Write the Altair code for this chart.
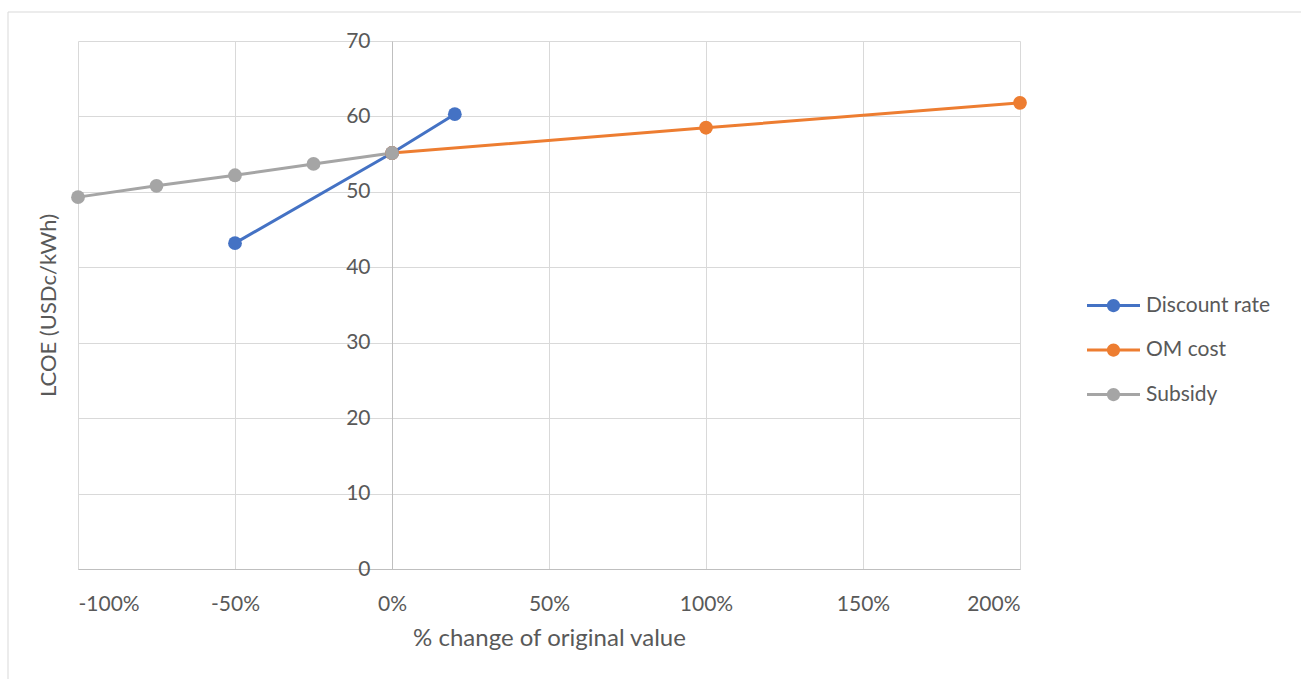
import altair as alt
import pandas as pd

# LCOE sensitivity: % change of each input vs. resulting LCOE (USDc/kWh)
series_names = ["Discount rate", "OM cost", "Subsidy"]
series_colors = ["#4472C4", "#ED7D31", "#A5A5A5"]

discount_pct = [-50, 0, 20]
discount_lcoe = [43.2, 55.15, 60.3]

om_pct = [0, 100, 200]
om_lcoe = [55.15, 58.5, 61.8]

subsidy_pct = [-100, -75, -50, -25, 0]
subsidy_lcoe = [49.3, 50.8, 52.2, 53.7, 55.15]

x_ticks = [-100, -50, 0, 50, 100, 150, 200]
y_ticks = [0, 10, 20, 30, 40, 50, 60, 70]

rows = []
for name, xs, ys in [
    (series_names[0], discount_pct, discount_lcoe),
    (series_names[1], om_pct, om_lcoe),
    (series_names[2], subsidy_pct, subsidy_lcoe),
]:
    for i, (x, y) in enumerate(zip(xs, ys)):
        rows.append({"series": name, "pct": x, "lcoe": y, "order": i})
df = pd.DataFrame(rows)

FONT = "Lato"
TEXT = "#595959"
GRID = "#D9D9D9"

W, H = 942, 528
PAD_L, PAD_T = 78, 41

x_enc = alt.X(
    "pct:Q",
    scale=alt.Scale(domain=[-100, 200], nice=False, zero=False),
    axis=alt.Axis(
        values=x_ticks,
        labelExpr="datum.value + '%'",
        title="% change of original value",
        ticks=False,
        labelPadding=24,
        titlePadding=12,
        titleFontSize=24,
        domainColor="#BFBFBF",
        gridColor=GRID,
    ),
)

y_enc = alt.Y(
    "lcoe:Q",
    scale=alt.Scale(domain=[0, 70], nice=False),
    axis=alt.Axis(
        values=y_ticks,
        title="LCOE (USDc/kWh)",
        ticks=False,
        labelPadding=22,
        offset=-314,
        titleX=-344,
        titleY=H / 2,
        titleBaseline="middle",
        titleAlign="center",
        titleFontSize=22,
        domainColor="#BFBFBF",
        gridColor=GRID,
    ),
)

# line + dot legend glyph: two bar segments and a circle
glyph = (
    "M-1,-0.06H-0.22V0.06H-1Z "
    "M0.22,-0.06H1V0.06H0.22Z "
    "M0.25,0A0.25,0.25 0 1 1 -0.25,0A0.25,0.25 0 1 1 0.25,0Z"
)

legend = alt.Legend(
    title=None,
    orient="none",
    legendX=1087 - PAD_L,
    legendY=238,
    symbolType=glyph,
    symbolSize=2809,
    symbolStrokeWidth=0,
    symbolOpacity=1,
    labelFont=FONT,
    labelFontSize=21,
    labelColor=TEXT,
    labelOffset=6,
    rowPadding=7.5,
    labelLimit=300,
)

color = alt.Color(
    "series:N",
    scale=alt.Scale(domain=series_names, range=series_colors),
    legend=legend,
)

lines = alt.Chart(df).mark_line(strokeWidth=3).encode(
    x=x_enc,
    y=y_enc,
    color=color,
    order="order:Q",
)

points = alt.Chart(df).mark_point(filled=True, size=190, opacity=1).encode(
    x="pct:Q",
    y="lcoe:Q",
    color=color,
)

frame = alt.Chart(pd.DataFrame({"k": [0]})).mark_rect(
    fill=None, stroke=GRID, strokeWidth=1
).encode(
    x=alt.value(8 - PAD_L),
    x2=alt.value(1301 - PAD_L + 10),
    y=alt.value(12 - PAD_T),
    y2=alt.value(679 - PAD_T + 10),
)

chart = (
    alt.layer(frame, lines, points)
    .properties(
        width=W,
        height=H,
        autosize=alt.AutoSizeParams(type="none"),
        padding={"left": PAD_L, "top": PAD_T, "right": 1301 - PAD_L - W, "bottom": 679 - PAD_T - H},
        background="white",
    )
    .configure_view(stroke=None)
    .configure_axis(
        labelFont=FONT,
        labelFontSize=21,
        labelColor=TEXT,
        titleFont=FONT,
        titleFontWeight="normal",
        titleColor=TEXT,
        gridWidth=1,
        domainWidth=1,
    )
)

chart.save("out.html", embed_options={"renderer": "svg", "actions": False})
